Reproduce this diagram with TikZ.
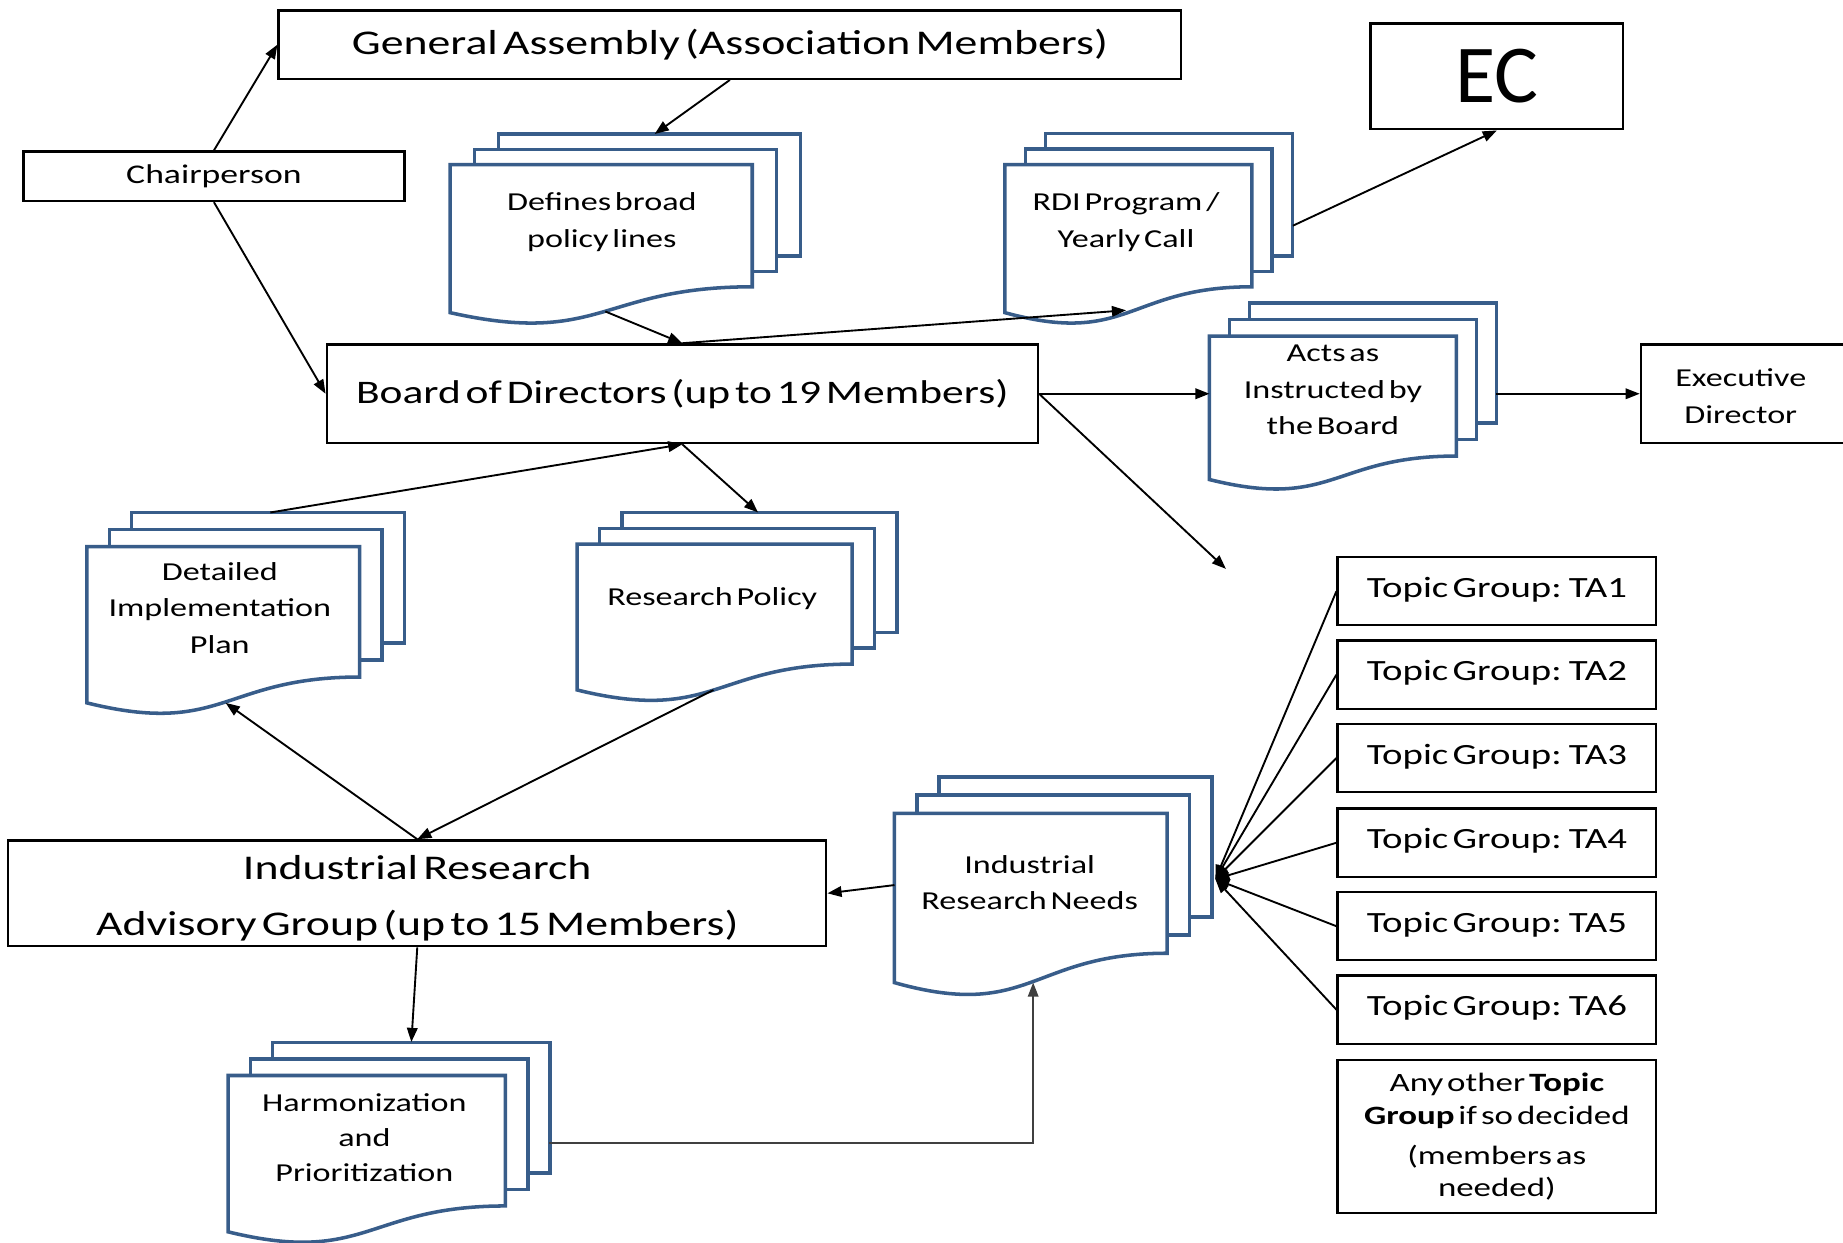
\documentclass[tikz,border=0pt]{standalone}
\usepackage{fontspec}
\setmainfont{Carlito}[FakeStretch=1.32, WordSpace=0.5]
\newfontfamily\ecfont{Carlito}
\usetikzlibrary{arrows.meta}
\definecolor{docblue}{RGB}{56,93,138}
\definecolor{linegray}{RGB}{64,64,64}
\newcommand\setfs[2]{\fontsize{#1}{#2}\selectfont}
% multidoc: x, ytop, width, yleftbottom, yrightbottom, dx, dy
\newcommand\multidoc[7]{%
  \foreach \k in {2,1}{%
    \filldraw[docline] ({#1+\k*#6},{#2-\k*#7}) rectangle ({#1+#3+\k*#6},{#5-\k*#7});
  }%
  \filldraw[docline] (#1,#2) -- ({#1+#3},#2) -- ({#1+#3},#5)
     .. controls ({#1+#3/2},#5) and ({#1+#3/2},{#4+1.31*(#4-#5)}) .. (#1,#4) -- cycle;
}
\tikzset{
  box/.style={draw=black, line width=2pt, fill=white, inner sep=0pt, align=center},
  docline/.style={draw=docblue, line width=3pt, fill=white, line join=miter},
  txt/.style={inner sep=0pt, align=center},
  conn/.style={draw=black, line width=1.6pt, -{Triangle[length=12pt,width=9pt]}},
}
\begin{document}
\begin{tikzpicture}[x=1pt,y=-1pt]
\useasboundingbox (0,0) rectangle (1568,1057);
\clip (0,0) rectangle (1568,1057);
\fill[white] (0,0) rectangle (1568,1057);

% boxes
\node[box, minimum width=768pt, minimum height=58pt, font=\setfs{29.5}{35}] (ga) at (621,38) {\raisebox{-1pt}{General Assembly (Association Members)}};
\node[box, minimum width=324pt, minimum height=42pt, font=\setfs{23}{28}] (chair) at (182,150) {\raisebox{3pt}{Chairperson}};
\node[box, minimum width=215pt, minimum height=90pt, font=\ecfont\setfs{70}{74}] (ec) at (1273.5,65) {EC};
\node[box, minimum width=605pt, minimum height=84pt, font=\setfs{28}{34}] (board) at (580.5,335) {\raisebox{-3pt}{Board of Directors (up to 19 Members)}};
\node[box, minimum width=260pt, minimum height=84pt, anchor=west] (exec) at (1395,335) {};
\node[txt, font=\setfs{22}{31}] (exectxt) at (1481,337) {Executive\\Director};
\node[box, minimum width=696pt, minimum height=90pt] (irag) at (355,760) {};
\node[txt, font=\setfs{29.5}{48}] (iragtxt) at (355,764) {Industrial Research\\Advisory Group (up to 15 Members)};
\foreach \i/\y in {1/503,2/574,3/645,4/717,5/788,6/859}
  \node[box, minimum width=271pt, minimum height=58pt, font=\setfs{25}{30}] (ta\i) at (1273.5,\y) {\raisebox{7pt}{Topic Group: TA\i}};
\node[box, minimum width=271pt, minimum height=130pt, font=\setfs{22.5}{28}] (other) at (1273.5,967) {Any other \textbf{Topic}\\\textbf{Group} if so decided\\[6pt](members as\\needed)};

% document stacks
\multidoc{383}{140}{257}{266}{244}{20.5}{13}
\multidoc{855}{140}{210}{266}{244}{17.3}{13.2}
\multidoc{1029}{286}{210}{408}{388}{17}{14}
\multidoc{74}{465}{232}{598}{576}{19}{14.5}
\multidoc{491}{463}{234}{587}{565}{19}{13.5}
\multidoc{761}{692}{232}{836}{811}{19}{15.5}
\multidoc{194}{915}{236}{1048}{1026}{19}{14}

\node[txt, font=\setfs{22}{32}] (tdef) at (512,189) {Defines broad\\policy lines};
\node[txt, font=\setfs{22}{32}] (trdi) at (958,189) {RDI Program /\\Yearly Call};
\node[txt, font=\setfs{22}{31}] (tacts) at (1134,332) {Acts as\\Instructed by\\the Board};
\node[txt, font=\setfs{22}{31}] (tdet) at (187,517) {Detailed\\Implementation\\Plan};
\node[txt, font=\setfs{22}{31}] (trp) at (606,509) {Research Policy};
\node[txt, font=\setfs{22}{31}] (tirn) at (876,751) {Industrial\\Research Needs};
\node[txt, font=\setfs{22}{30}] (tharm) at (310,968) {Harmonization\\and\\Prioritization};

% connection points
\coordinate (d1top) at (557,114);
\coordinate (d1bot) at (515,265);
\coordinate (rdibot) at (958,264);
\coordinate (rdiright) at (1100,192);
\coordinate (actsleft) at (1029,335);
\coordinate (actsright) at (1273,335);
\coordinate (free) at (1043,484);
\coordinate (dtop) at (230,436);
\coordinate (dbot) at (192,598);
\coordinate (rptop) at (645,436);
\coordinate (rpbot) at (607,587);
\coordinate (htop) at (350,886.5);
\coordinate (hright) at (467.5,972.5);
\coordinate (irnbot) at (879,836);
\coordinate (irnleft) at (761,753);
\coordinate (hub) at (1034,748);

% connectors
\draw[conn] (chair.north) -- (ga.west);
\draw[conn] (chair.south) -- (board.west);
\draw[conn] (ga.south) -- (d1top);
\draw[conn] (d1bot) -- (board.north);
\draw[conn] (board.north) -- (rdibot);
\draw[conn] (rdiright) -- (ec.south);
\draw[conn] (board.east) -- (actsleft);
\draw[conn] (actsright) -- (exec.west);
\draw[conn] (board.east) -- (free);
\draw[conn] (dtop) -- (board.south);
\draw[conn] (board.south) -- (rptop);
\draw[conn] (irag.north) -- (dbot);
\draw[conn] (rpbot) -- (irag.north);
\draw[conn] (irag.south) -- (htop);
\draw[conn, draw=linegray] (hright) -| (irnbot);
\draw[conn] (irnleft) -- (irag.east);
\foreach \i in {1,...,6} \draw[conn] (ta\i.west) -- (hub);
\end{tikzpicture}
\end{document}
